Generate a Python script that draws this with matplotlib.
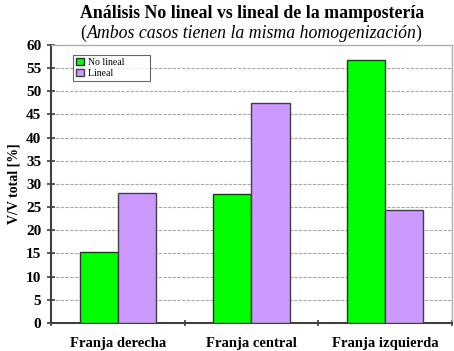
import matplotlib
matplotlib.use("Agg")
import matplotlib.pyplot as plt
import numpy as np

categories = ["Franja derecha", "Franja central", "Franja izquierda"]
no_lineal = [15.3, 27.9, 56.8]
lineal = [28.1, 47.5, 24.4]
series_names = ["No lineal", "Lineal"]
yticks = list(range(0, 61, 5))

plt.rcParams['font.family'] = ['Liberation Serif', 'DejaVu Serif']

fig = plt.figure(figsize=(4.54, 3.51), dpi=100)
ax = fig.add_axes([0.1123, 0.0798, 0.8833, 0.792])

x = np.arange(len(categories))
w = 0.285
ax.bar(x - w/2, no_lineal, w, color="#00ff00", edgecolor="#303030", linewidth=1.0, label=series_names[0], zorder=3)
ax.bar(x + w/2, lineal, w, color="#cc99ff", edgecolor="#404040", linewidth=1.0, label=series_names[1], zorder=3)

ax.set_xlim(-0.5, 2.5)
ax.set_ylim(0, 60)
ax.set_yticks(yticks)
ax.set_yticklabels([str(t) for t in yticks], fontsize=11, fontweight="bold")
ax.yaxis.grid(True, linestyle=(0, (3, 1.2)), color="#a8a8a8", linewidth=0.8, zorder=0)

ax.set_xticks(x)
ax.set_xticklabels(categories, fontsize=10.5, fontweight="bold")
ax.tick_params(axis="x", length=0, pad=10)
ax.set_xticks([-0.5, 0.5, 1.5, 2.5], minor=True)
ax.tick_params(axis="x", which="minor", length=5, direction="inout", color="#404040", width=1.2)
ax.tick_params(axis="y", length=6, direction="inout", color="#404040", width=1.2, pad=4)

for s in ["left", "bottom"]:
    ax.spines[s].set_color("#404040")
    ax.spines[s].set_linewidth(1.5)
for s in ["top", "right"]:
    ax.spines[s].set_color("#b0b0b0")
    ax.spines[s].set_linewidth(1.0)

ax.set_ylabel("V/V total [%]", fontsize=10, fontweight="bold", labelpad=4)

leg = ax.legend(loc="upper left", bbox_to_anchor=(0.055, 0.965), fontsize=7,
                frameon=True, fancybox=False, edgecolor="#404040",
                handlelength=0.8, handleheight=0.8, handletextpad=0.4,
                borderpad=0.3, labelspacing=0.2, borderaxespad=0)
leg.get_frame().set_linewidth(0.8)
for t in leg.get_texts():
    t.set_text(t.get_text() + "         ")

fig.text(0.555, 0.962, "Análisis No lineal vs lineal de la mampostería", ha="center",
         va="center", fontsize=12.8, fontweight="bold")

sub = fig.text(0.555, 0.905, "Ambos casos tienen la misma homogenización", ha="center",
               va="center", fontsize=12.8, fontstyle="italic")
fig.canvas.draw()
r = fig.canvas.get_renderer()
bb = sub.get_window_extent(r).transformed(fig.transFigure.inverted())
fig.text(bb.x0 - 0.001, 0.905, "(", ha="right", va="center", fontsize=12.8)
fig.text(bb.x1 - 0.003, 0.905, ")", ha="left", va="center", fontsize=12.8)

fig.savefig("out.png", dpi=100)
